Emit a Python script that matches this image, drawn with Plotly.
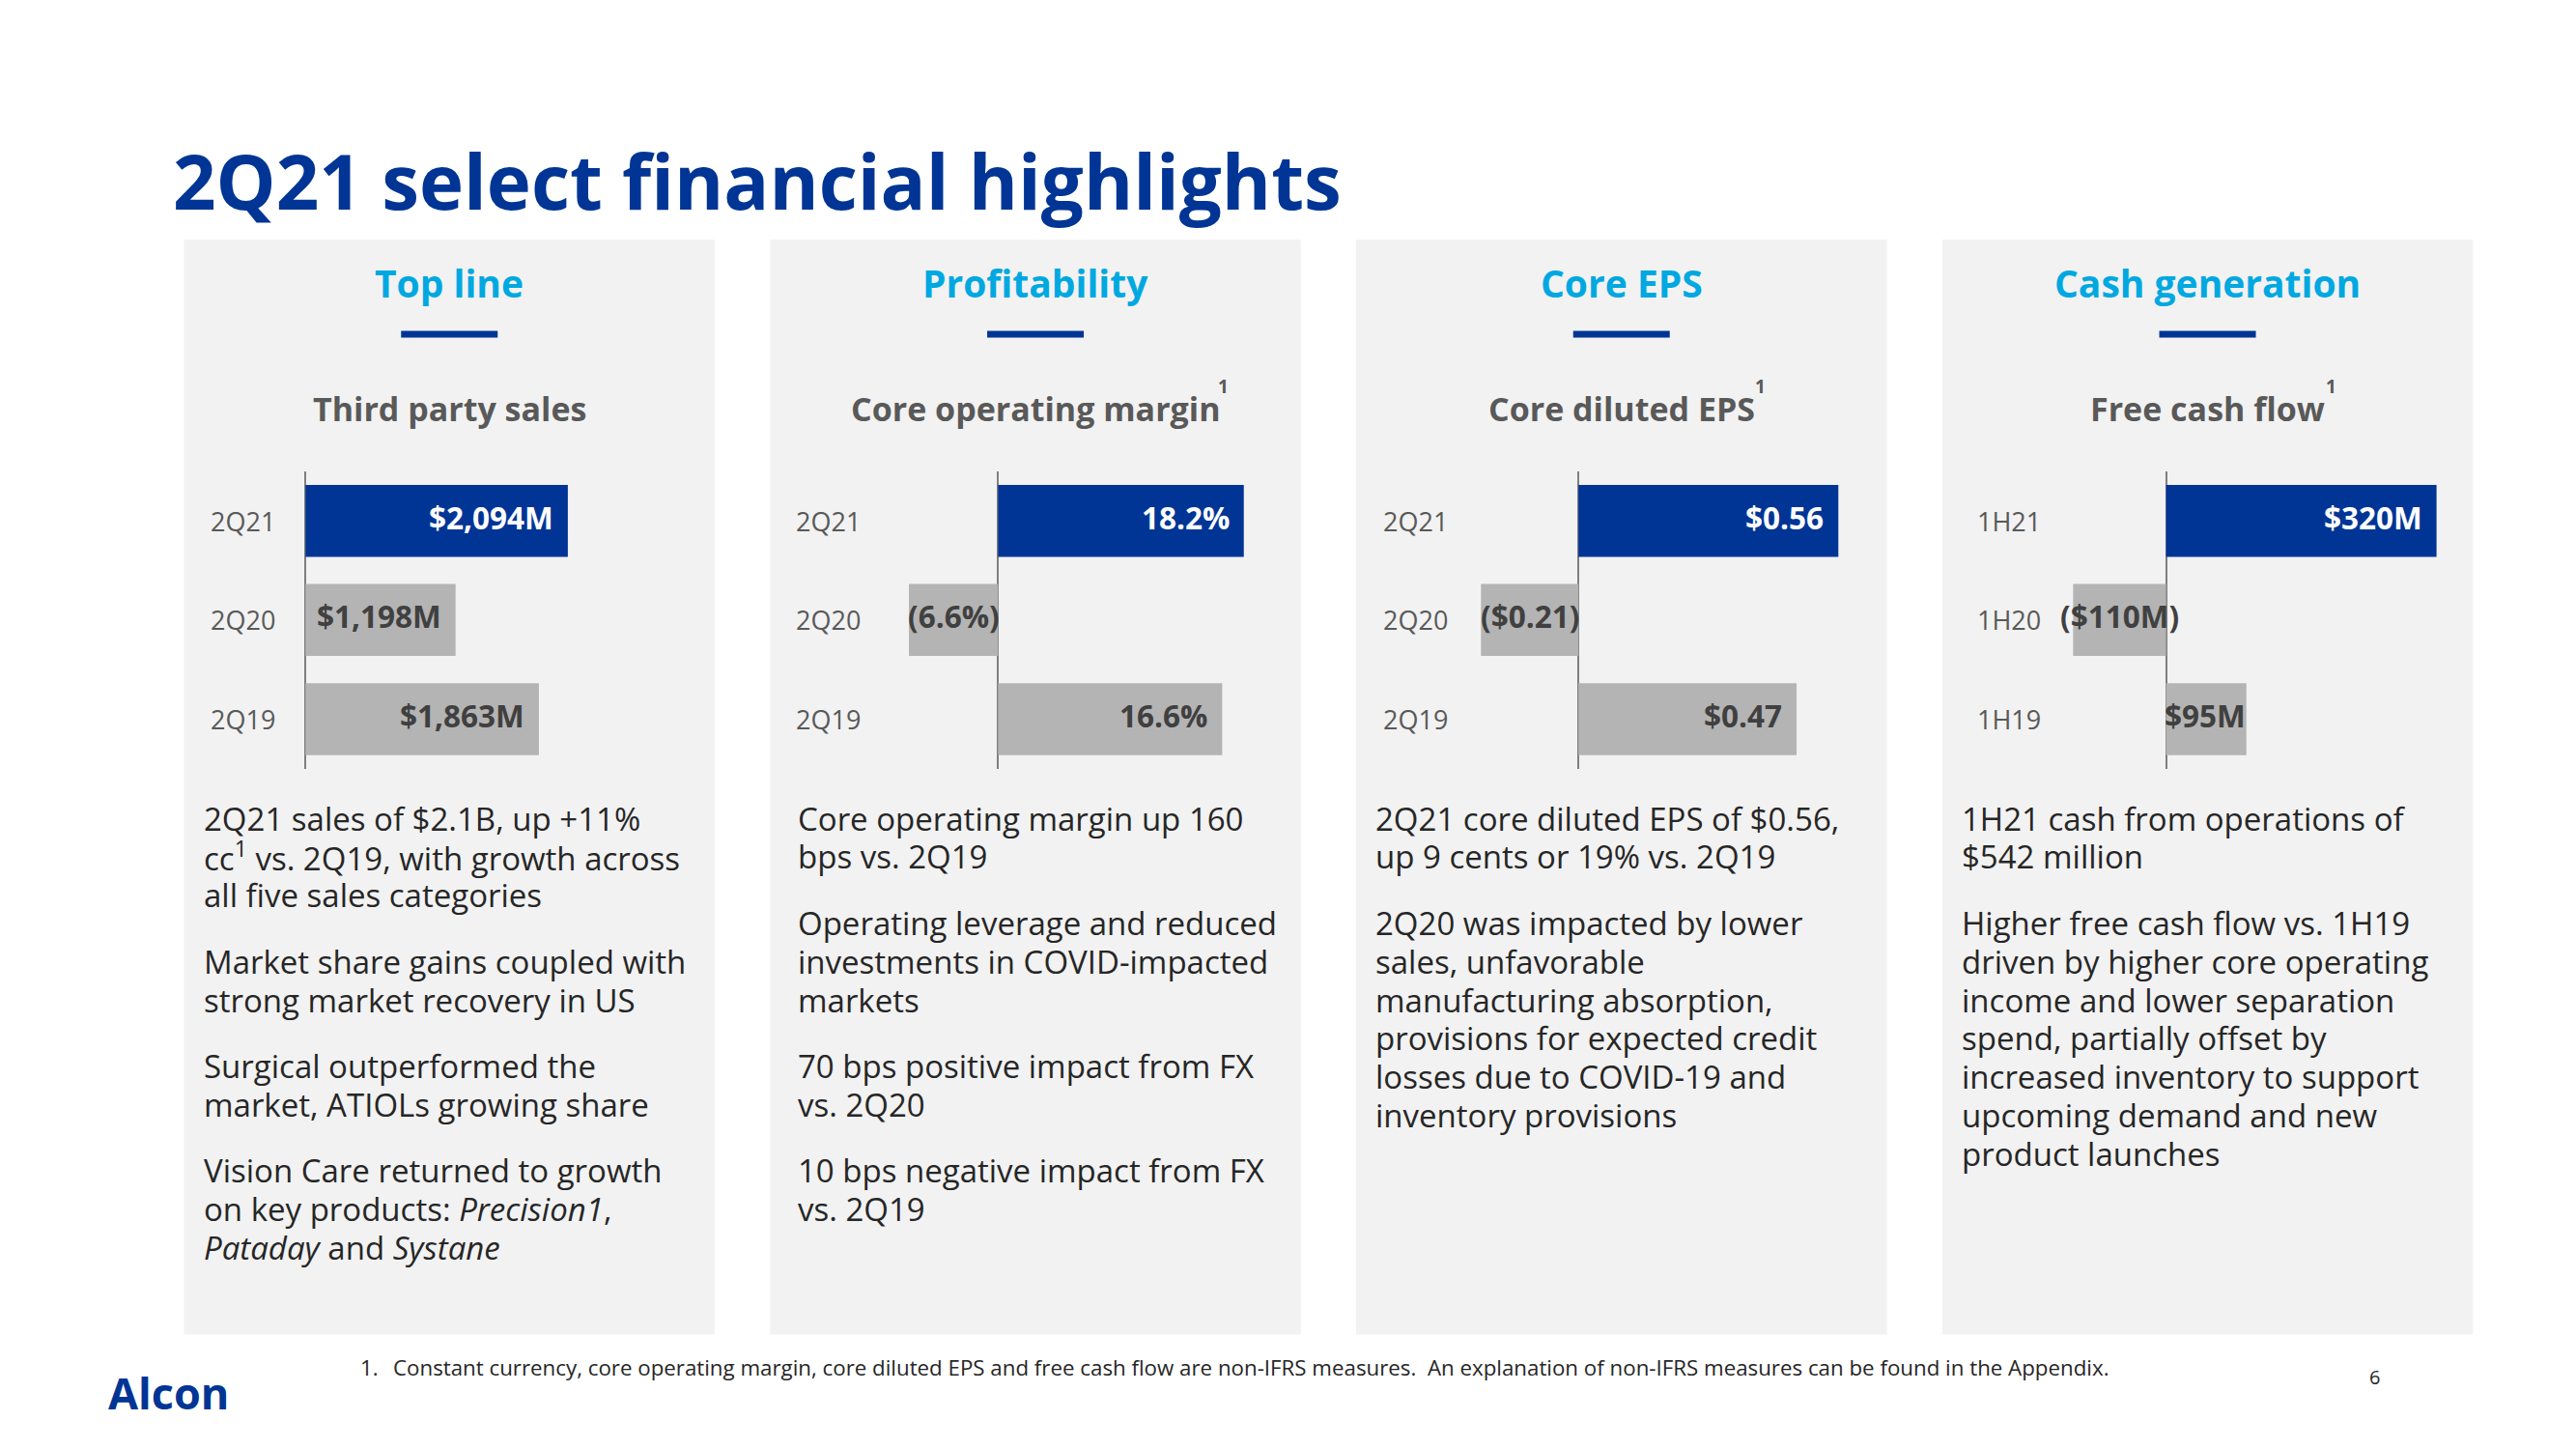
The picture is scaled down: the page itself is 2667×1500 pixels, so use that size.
import plotly.graph_objects as go

# ---------------- data ----------------
quarters = ["2Q21", "2Q20", "2Q19"]
halves = ["1H21", "1H20", "1H19"]

sales_m = [2094, 1198, 1863]
sales_labels = ["$2,094M", "$1,198M", "$1,863M"]

core_margin_pct = [18.2, -6.6, 16.6]
core_margin_labels = ["18.2%", "(6.6%)", "16.6%"]

core_eps = [0.56, -0.21, 0.47]
core_eps_labels = ["$0.56", "($0.21)", "$0.47"]

fcf_m = [320, -110, 95]
fcf_labels = ["$320M", "($110M)", "$95M"]

section_titles = ["Top line", "Profitability", "Core EPS", "Cash generation"]
chart_titles = ["Third party sales", "Core operating margin", "Core diluted EPS", "Free cash flow"]
chart_title_note = [False, True, True, True]

body_text = [
    [
        ["2Q21 sales of $2.1B, up +11%", "cc<sup>1</sup> vs. 2Q19, with growth across", "all five sales categories"],
        ["Market share gains coupled with", "strong market recovery in US"],
        ["Surgical outperformed the", "market, ATIOLs growing share"],
        ["Vision Care returned to growth", "on key products: <i>Precision1</i>,", "<i>Pataday</i> and <i>Systane</i>"],
    ],
    [
        ["Core operating margin up 160", "bps vs. 2Q19"],
        ["Operating leverage and reduced", "investments in COVID-impacted", "markets"],
        ["70 bps positive impact from FX", "vs. 2Q20"],
        ["10 bps negative impact from FX", "vs. 2Q19"],
    ],
    [
        ["2Q21 core diluted EPS of $0.56,", "up 9 cents or 19% vs. 2Q19"],
        ["2Q20 was impacted by lower", "sales, unfavorable", "manufacturing absorption,",
         "provisions for expected credit", "losses due to COVID-19 and", "inventory provisions"],
    ],
    [
        ["1H21 cash from operations of", "$542 million"],
        ["Higher free cash flow vs. 1H19", "driven by higher core operating", "income and lower separation",
         "spend, partially offset by", "increased inventory to support", "upcoming demand and new",
         "product launches"],
    ],
]

title_text = "2Q21 select financial highlights"
footnote_num = "1."
footnote_text = ("Constant currency, core operating margin, core diluted EPS and free cash flow are non-IFRS measures.  "
                 "An explanation of non-IFRS measures can be found in the Appendix.")
page_number = "6"
logo_text = "Alcon"

# ---------------- style / layout ----------------
W, H = 2667, 1500
FONT = "Open Sans"
BLUE = "#003595"
LIGHT_BLUE = "#00A8E1"
GREY_BAR = "#B4B4B4"
PANEL_BG = "#F2F2F2"
SUB_GREY = "#595959"
VAL_GREY = "#404040"
TEXT = "#262626"


def fx(px):
    return px / W


def fy(py):
    return 1 - py / H


panel_left = [190.5, 797.3, 1404.0, 2010.8]
panel_w = 549.5
panel_top, panel_bottom = 248, 1381.5

zero_px = [316.3, 1033.3, 1634.2, 2242.6]
px_per_unit = [0.1297, 13.98, 480.5, 0.875]
cat_label_offset = [25, 25, 26, 34]
text_offset = [18, 27, 18, 18]
sup_left = [None, 1259, 1815, 2406]
label_shift_override = {(3, 2): 1}

plot_top, plot_bottom = 487.8, 795.9

series = [
    (quarters, sales_m, sales_labels),
    (quarters, core_margin_pct, core_margin_labels),
    (quarters, core_eps, core_eps_labels),
    (halves, fcf_m, fcf_labels),
]

fig = go.Figure()
shapes = []
annotations = []
layout_axes = {}

for i, (cats, vals, labs) in enumerate(series):
    pl = panel_left[i]
    pc = pl + panel_w / 2
    sfx = "" if i == 0 else str(i + 1)
    xa, ya = "x" + sfx, "y" + sfx

    # panel background
    shapes.append(dict(type="rect", xref="paper", yref="paper",
                       x0=fx(pl), x1=fx(pl + panel_w), y0=fy(panel_bottom), y1=fy(panel_top),
                       fillcolor=PANEL_BG, line=dict(width=0), layer="below"))
    # underline
    shapes.append(dict(type="rect", xref="paper", yref="paper",
                       x0=fx(pc - 50), x1=fx(pc + 50), y0=fy(349.5), y1=fy(342.5),
                       fillcolor=BLUE, line=dict(width=0), layer="above"))

    # bars
    colors = [BLUE if k == 0 else GREY_BAR for k in range(len(vals))]
    fig.add_trace(go.Bar(x=vals, y=cats, orientation="h", width=0.725,
                         marker=dict(color=colors, line=dict(width=0)),
                         xaxis=xa, yaxis=ya, hoverinfo="skip", showlegend=False))

    dl, dr = pl + 100, pl + panel_w - 4
    z, s = zero_px[i], px_per_unit[i]
    layout_axes["xaxis" + sfx] = dict(
        domain=[fx(dl), fx(dr)], range=[(dl - z) / s, (dr - z) / s], anchor=ya,
        showgrid=False, showticklabels=False, ticks="", showline=False,
        zeroline=True, zerolinecolor="#7F7F7F", zerolinewidth=2, fixedrange=True)
    layout_axes["yaxis" + sfx] = dict(
        domain=[fy(plot_bottom), fy(plot_top)], range=[2.5, -0.5], anchor=xa,
        type="category", categoryorder="array", categoryarray=cats,
        showgrid=False, showticklabels=False, ticks="", showline=False, zeroline=False, fixedrange=True)

    # category labels
    for c in cats:
        annotations.append(dict(xref="paper", yref=ya, x=fx(pl + cat_label_offset[i]), y=c,
                                text=c, showarrow=False, xanchor="left", yanchor="middle",
                                font=dict(family=FONT, size=27, color=SUB_GREY)))
    # value labels
    for k, (c, v, t) in enumerate(zip(cats, vals, labs)):
        col = "white" if k == 0 else VAL_GREY
        if v >= 0:
            annotations.append(dict(xref=xa, yref=ya, x=v, y=c, text="<b>" + t + "</b>", showarrow=False,
                                    xanchor="right", yanchor="middle",
                                    xshift=label_shift_override.get((i, k), -13), yshift=4,
                                    font=dict(family=FONT, size=31.5, color=col)))
        else:
            annotations.append(dict(xref=xa, yref=ya, x=v / 2, y=c, text="<b>" + t + "</b>", showarrow=False,
                                    xanchor="center", yanchor="middle", yshift=4,
                                    font=dict(family=FONT, size=31.5, color=col)))

    # section header
    annotations.append(dict(xref="paper", yref="paper", x=fx(pc), y=fy(308 - 0.388 * 39),
                            text="<b>" + section_titles[i] + "</b>", showarrow=False,
                            xanchor="center", yanchor="middle",
                            font=dict(family=FONT, size=39, color=LIGHT_BLUE)))
    # chart title
    annotations.append(dict(xref="paper", yref="paper", x=fx(pc), y=fy(436 - 0.388 * 34),
                            text="<b>" + chart_titles[i] + "</b>", showarrow=False,
                            xanchor="center", yanchor="middle",
                            font=dict(family=FONT, size=34, color=SUB_GREY)))
    if chart_title_note[i]:
        annotations.append(dict(xref="paper", yref="paper", x=fx(sup_left[i]), y=fy(407.5 - 0.388 * 19),
                                text="<b>1</b>", showarrow=False, xanchor="left", yanchor="middle",
                                font=dict(family=FONT, size=19, color=SUB_GREY)))

    # body text
    base = 860.0
    for para in body_text[i]:
        for line in para:
            annotations.append(dict(xref="paper", yref="paper", x=fx(pl + text_offset[i]),
                                    y=fy(base - 0.388 * 33), text=line, showarrow=False,
                                    xanchor="left", yanchor="middle",
                                    font=dict(family=FONT, size=33, color=TEXT)))
            base += 39.8
        base += 28.7

# title
annotations.append(dict(xref="paper", yref="paper", x=fx(177), y=fy(217 - 0.388 * 78),
                        text="<b>" + title_text + "</b>", showarrow=False, xanchor="left", yanchor="middle",
                        font=dict(family=FONT, size=78, color=BLUE)))
# footnote
annotations.append(dict(xref="paper", yref="paper", x=fx(371), y=fy(1424 - 0.388 * 22.3),
                        text=footnote_num, showarrow=False, xanchor="left", yanchor="middle",
                        font=dict(family=FONT, size=22.3, color=TEXT)))
annotations.append(dict(xref="paper", yref="paper", x=fx(405), y=fy(1424 - 0.388 * 22.3),
                        text=footnote_text, showarrow=False, xanchor="left", yanchor="middle",
                        font=dict(family=FONT, size=22.3, color=TEXT)))
annotations.append(dict(xref="paper", yref="paper", x=fx(2458), y=fy(1433 - 0.388 * 20),
                        text=page_number, showarrow=False, xanchor="center", yanchor="middle",
                        font=dict(family=FONT, size=20, color=TEXT)))
annotations.append(dict(xref="paper", yref="paper", x=fx(110), y=fy(1459 - 0.388 * 45),
                        text="<b>" + logo_text + "</b>", showarrow=False, xanchor="left", yanchor="middle",
                        font=dict(family=FONT, size=45, color=BLUE)))

fig.update_layout(
    width=W, height=H, margin=dict(l=0, r=0, t=0, b=0),
    paper_bgcolor="white", plot_bgcolor="rgba(0,0,0,0)",
    shapes=shapes, annotations=annotations, showlegend=False,
    barmode="relative", hovermode=False,
    **layout_axes,
)

fig.write_html("out.html", config={"displayModeBar": False},
               post_script="document.body.style.margin='0';document.body.style.overflow='hidden';")
